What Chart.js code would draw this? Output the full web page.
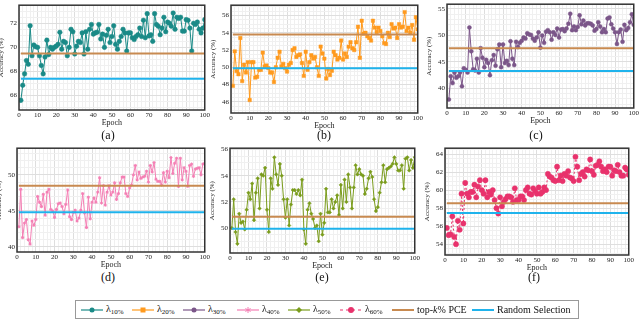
<!DOCTYPE html>
<html>
<head>
<meta charset="utf-8">
<script src="https://cdn.jsdelivr.net/npm/chart.js@4/dist/chart.umd.min.js"></script>
<style>
  body { margin:0; width:640px; height:320px; overflow:hidden; background:#fff; position:relative; font-family:"Liberation Serif","DejaVu Serif",serif; }
  .panel { position:absolute; }
  .cap { position:absolute; font-size:12px; transform:translateX(-50%); color:#111; }
  #legend { position:absolute; left:75px; top:300px; width:502px; height:17px; border:1px solid #999; font-size:10px; color:#111; }
  .item { position:absolute; top:1px; display:flex; align-items:center; height:15px; }
  .item svg { margin-right:3px; }
  sub { font-size:7px; vertical-align:-2px; }
</style>
</head>
<body>
<div class="panel" id="pa"><canvas id="ca"></canvas></div>
<div class="panel" id="pb"><canvas id="cb"></canvas></div>
<div class="panel" id="pc"><canvas id="cc"></canvas></div>
<div class="panel" id="pd"><canvas id="cd"></canvas></div>
<div class="panel" id="pe"><canvas id="ce"></canvas></div>
<div class="panel" id="pf"><canvas id="cf"></canvas></div>
<div class="cap" style="left:108px;top:128px">(a)</div>
<div class="cap" style="left:324px;top:128px">(b)</div>
<div class="cap" style="left:536px;top:128px">(c)</div>
<div class="cap" style="left:108px;top:270px">(d)</div>
<div class="cap" style="left:322px;top:270px">(e)</div>
<div class="cap" style="left:534px;top:270px">(f)</div>
<div id="legend"></div>
<script>
// accuracy per epoch (1..100)
const lam10 = [65.6,66.85,67.8,68.9,68.6,71.8,69.3,70.2,70.05,70.0,69.3,68.5,67.8,69.2,70.6,69.4,70.0,69.85,70.0,70.1,
  70.25,71.25,69.85,70.5,70.4,69.3,70.0,71.5,71.3,69.45,70.1,70.5,70.4,71.2,69.45,71.3,69.85,71.5,71.9,71.1,
  71.2,71.25,71.9,70.7,71.1,70.0,71.0,71.5,70.4,70.9,71.8,70.25,69.85,70.5,70.9,71.5,71.2,69.7,71.2,71.2,
  70.8,70.65,70.9,71.05,71.6,70.9,72.25,70.8,72.8,70.95,71.05,70.5,72.8,71.9,71.75,71.05,71.6,72.5,71.3,72.1,
  72.0,71.75,72.85,71.5,72.5,72.4,72.5,71.35,71.35,72.3,72.25,71.6,69.7,72.0,71.9,72.1,71.5,71.2,71.6,72.3];
const lam20 = [47.85,51.85,49.55,49.2,53.4,48.4,50.3,49.4,50.6,46.2,50.6,50.6,48.8,48.9,49.7,49.7,51.7,50.1,50.2,49.9,
  49.4,49.4,48.3,50.0,51.1,51.8,50.1,50.4,49.9,49.5,50.3,50.5,52.0,52.2,51.2,51.4,51.5,50.5,49.0,51.8,
  49.7,50.6,51.4,51.0,51.2,50.0,49.0,52.4,51.6,51.0,48.7,49.8,49.1,49.6,51.8,51.4,50.9,51.1,53.1,50.9,
  51.6,51.2,52.4,52.9,52.2,52.0,52.9,54.7,51.1,55.4,53.9,54.0,53.6,53.4,53.1,55.4,54.6,54.1,54.6,54.2,
  53.6,52.8,52.7,54.0,53.5,55.0,54.5,54.6,53.4,55.0,54.6,54.7,56.4,54.2,54.6,54.0,54.9,53.2,55.8,54.4];
const lam30 = [37.9,42.3,41.0,43.0,42.0,42.3,43.0,40.4,43.8,43.5,43.0,51.5,47.0,43.6,43.4,45.6,43.0,47.6,45.8,44.0,
  45.4,44.8,42.5,45.3,46.3,44.3,47.4,48.3,44.0,48.3,44.8,45.2,44.4,48.9,45.6,44.4,48.8,47.8,48.6,49.0,
  49.6,49.4,50.4,50.2,50.1,49.4,49.0,49.6,50.6,47.7,50.0,48.6,50.7,51.0,50.6,49.2,50.6,50.1,51.3,49.6,
  51.1,51.2,50.8,51.3,52.2,54.1,51.0,51.7,51.0,51.6,53.8,52.1,52.8,51.9,52.3,52.3,52.2,51.9,50.9,51.2,
  52.5,51.7,50.6,51.2,50.6,53.2,53.4,52.1,51.3,50.6,48.4,50.6,51.1,48.8,52.0,51.0,51.4,52.5,54.0,52.0];
const lam40 = [42.8,48.0,41.3,43.3,43.8,41.0,40.4,43.6,43.0,43.8,47.0,46.2,45.6,47.3,44.4,47.6,48.0,45.2,45.0,44.1,
  45.2,46.0,46.1,45.6,44.6,45.9,47.9,44.2,43.8,44.8,45.1,43.6,44.0,45.1,47.4,44.7,42.7,46.9,43.9,46.2,
  46.8,46.2,47.6,49.6,46.1,48.5,45.8,47.6,48.5,47.2,47.6,48.9,46.6,47.4,48.9,49.7,49.7,47.4,47.0,48.2,
  48.6,50.0,51.3,49.3,50.4,49.5,49.7,49.8,50.5,49.0,51.3,50.4,51.7,49.4,49.1,49.1,48.6,50.3,49.0,50.5,
  49.6,52.4,50.2,51.6,52.3,48.4,52.3,49.3,51.0,50.5,48.4,51.3,51.5,49.8,50.8,50.9,51.0,50.0,51.5,51.6];
const lam50 = [50.0,52.2,49.7,48.8,51.1,50.4,50.5,49.9,51.4,52.7,52.2,53.4,50.6,52.7,53.8,51.5,54.1,54.0,54.6,51.4,
  49.7,53.8,53.0,55.4,54.1,53.3,54.9,54.0,52.2,50.8,52.2,50.2,51.8,52.9,52.9,52.6,52.9,52.5,53.7,49.9,
  48.8,51.4,51.9,51.1,50.7,50.0,50.2,49.0,51.1,49.5,50.4,53.0,51.2,51.2,52.2,51.5,52.0,52.5,51.0,53.3,
  51.5,53.7,52.0,54.1,53.1,51.5,53.1,54.8,54.1,54.5,54.1,54.0,52.6,53.0,53.8,54.3,53.9,52.2,51.3,51.6,
  52.7,53.5,54.8,53.5,54.5,54.6,54.7,54.9,55.4,54.9,54.4,54.4,54.8,53.0,55.3,55.4,54.4,55.2,54.6,55.4];
const lam60 = [55.8,55.0,55.1,57.1,54.8,54.0,56.6,55.6,59.6,56.3,60.8,59.6,59.2,59.8,59.8,60.6,59.2,60.4,61.1,60.0,
  59.6,61.1,59.2,59.8,59.5,60.0,58.9,58.0,57.4,59.2,58.2,58.7,59.0,59.3,59.3,59.2,58.7,60.2,58.9,58.9,
  59.3,59.3,58.9,60.0,60.3,59.6,59.5,60.2,59.9,59.6,60.3,59.6,59.8,60.3,60.0,61.8,61.5,61.4,61.1,61.0,
  62.6,61.1,61.6,61.0,61.8,61.6,62.1,61.4,61.3,61.0,63.7,62.6,61.1,61.8,62.0,61.5,62.3,62.2,63.4,62.1,
  61.7,62.7,62.8,63.2,62.6,62.1,62.3,62.0,62.6,62.6,61.6,62.2,62.1,62.8,62.0,61.6,61.6,62.5,62.3,61.7];
// horizontal baselines per panel a..f
const topkPCE = [69.5, 53.8, 47.6, 48.5, 50.87, 58.55];
const randomSel = [67.4, 49.9, 43.3, 44.8, 49.95, 57.45];

const epochs = lam10.map((v, i) => i + 1);

const colTopk = '#c88a50', colRand = '#1fb3ec';

const frame = {
  id: 'frame',
  afterDraw(chart) {
    const a = chart.chartArea, c = chart.ctx;
    c.save();
    c.strokeStyle = '#333';
    c.lineWidth = 1.5;
    c.strokeRect(a.left, a.top, a.right - a.left, a.bottom - a.top);
    c.restore();
  }
};

function near(v, s) { return Math.abs(v / s - Math.round(v / s)) < 1e-6; }

// grid ticks on multiples of the minor step inside [min, max]
function stepTicks(scale, step) {
  const t = [];
  for (let k = Math.ceil(scale.min / step - 1e-9); k * step <= scale.max + 1e-9; k++) t.push({ value: +(k * step).toFixed(4) });
  scale.ticks = t;
}

function panel(id, box, vals, k, style) {
  const wrap = document.getElementById('p' + id);
  const L = box[0] - 22, T = box[1] - 3;
  const W = box[2] - box[0] + 25, H = box[3] - box[1] + 21;
  wrap.style.left = L + 'px'; wrap.style.top = T + 'px';
  wrap.style.width = W + 'px'; wrap.style.height = H + 'px';
  const pts = vals.map((v, i) => ({ x: epochs[i], y: v }));
  new Chart(document.getElementById('c' + id), {
    type: 'line',
    data: {
      datasets: [
        { data: [{x:1,y:topkPCE[k]},{x:100,y:topkPCE[k]}], borderColor: colTopk, borderWidth: 2, pointRadius: 0 },
        { data: [{x:1,y:randomSel[k]},{x:100,y:randomSel[k]}], borderColor: colRand, borderWidth: 2, pointRadius: 0 },
        { data: pts, borderColor: style.color, backgroundColor: style.color, borderWidth: 1,
          borderDash: style.dash || [], pointStyle: style.point, pointRadius: style.r,
          pointBorderWidth: style.pbw || 0.5, pointBorderColor: style.color, tension: 0 }
      ]
    },
    options: {
      responsive: true, maintainAspectRatio: false, animation: false,
      layout: { padding: { top: 3, right: 3, left: 0, bottom: 0 } },
      plugins: { legend: { display: false }, tooltip: { enabled: false } },
      scales: {
        x: {
          type: 'linear', min: 0, max: 100,
          afterFit: s => { s.height = 18; },
          afterBuildTicks: s => stepTicks(s, 2),
          ticks: { autoSkip: false, maxRotation: 0, padding: 1, color: '#222',
            font: { family: 'Liberation Serif', size: 7 },
            callback: v => near(v, 10) ? v : '' },
          grid: { color: c => near(c.tick.value, 10) ? '#dedede' : '#f0f0f0', drawTicks: false },
          border: { display: false },
          title: { display: true, text: 'Epoch', padding: 0, color: '#222', font: { family: 'Liberation Serif', size: 8 } }
        },
        y: {
          min: style.ymin, max: style.ymax,
          afterFit: s => { s.width = 22; },
          afterBuildTicks: s => stepTicks(s, style.minor),
          ticks: { autoSkip: false, padding: 2, color: '#222',
            font: { family: 'Liberation Serif', size: 7 },
            callback: v => near(v, style.major) ? v : '' },
          grid: { color: c => near(c.tick.value, style.major) ? '#dedede' : '#f0f0f0', drawTicks: false },
          border: { display: false },
          title: { display: true, text: 'Accuracy (%)', padding: 0, color: '#222', font: { family: 'Liberation Serif', size: 7 } }
        }
      }
    },
    plugins: [frame]
  });
}

panel('a', [19, 2, 208, 110], lam10, 0, { color: '#1a8a87', point: 'circle', r: 2.3, ymin: 64.8, ymax: 73.5, minor: 0.5, major: 2 });
panel('b', [231, 2, 421, 113], lam20, 1, { color: '#ff9a1e', point: 'rect', r: 2.4, ymin: 44.7, ymax: 57.2, minor: 0.5, major: 2 });
panel('c', [447, 1, 637, 108], lam30, 2, { color: '#7b5689', point: 'circle', r: 2, ymin: 36.3, ymax: 55.9, minor: 1, major: 5 });
panel('d', [17, 145, 208, 252], lam40, 3, { color: '#f47fb4', point: 'star', r: 1.6, pbw: 1, ymin: 39.3, ymax: 53.7, minor: 1, major: 5 });
panel('e', [230, 145, 418, 253], lam50, 4, { color: '#7a9c1c', point: 'rectRot', r: 1.8, ymin: 48.1, ymax: 56.1, minor: 0.5, major: 2 });
panel('f', [445, 145, 632, 255], lam60, 5, { color: '#e8326c', point: 'circle', r: 2.6, dash: [2, 2], ymin: 52.8, ymax: 64.65, minor: 0.5, major: 2 });

// legend
const legendItems = [
  { x: 5,   html: 'λ<sub>10%</sub>', color: '#1a8a87', mark: 'circle' },
  { x: 56,  html: 'λ<sub>20%</sub>', color: '#ff9a1e', mark: 'rect' },
  { x: 107, html: 'λ<sub>30%</sub>', color: '#7b5689', mark: 'circle' },
  { x: 161, html: 'λ<sub>40%</sub>', color: '#f47fb4', mark: 'star' },
  { x: 212, html: 'λ<sub>50%</sub>', color: '#7a9c1c', mark: 'diamond' },
  { x: 264, html: 'λ<sub>60%</sub>', color: '#e8326c', mark: 'circle', dash: true },
  { x: 316, html: 'top-<i>k</i>% PCE', color: colTopk },
  { x: 396, html: 'Random Selection', color: colRand }
];
const lg = document.getElementById('legend');
legendItems.forEach(it => {
  let m = '';
  if (it.mark === 'circle') m = `<circle cx="11" cy="6" r="${it.dash ? 3 : 2.5}" fill="${it.color}"/>`;
  if (it.mark === 'rect') m = `<rect x="8.5" y="3.5" width="5" height="5" fill="${it.color}"/>`;
  if (it.mark === 'star') m = `<path d="M11 3 L11 9 M8.4 4.5 L13.6 7.5 M8.4 7.5 L13.6 4.5" stroke="${it.color}" stroke-width="1"/>`;
  if (it.mark === 'diamond') m = `<path d="M11 3 L14 6 L11 9 L8 6 Z" fill="${it.color}"/>`;
  const dash = it.dash ? 'stroke-dasharray="3,3"' : '';
  const lw = it.mark ? 1.2 : 2;
  const d = document.createElement('div');
  d.className = 'item';
  d.style.left = it.x + 'px';
  d.innerHTML = `<svg width="22" height="12"><line x1="0" y1="6" x2="22" y2="6" stroke="${it.color}" stroke-width="${lw}" ${dash}/>${m}</svg><span>${it.html}</span>`;
  lg.appendChild(d);
});
</script>
</body>
</html>
